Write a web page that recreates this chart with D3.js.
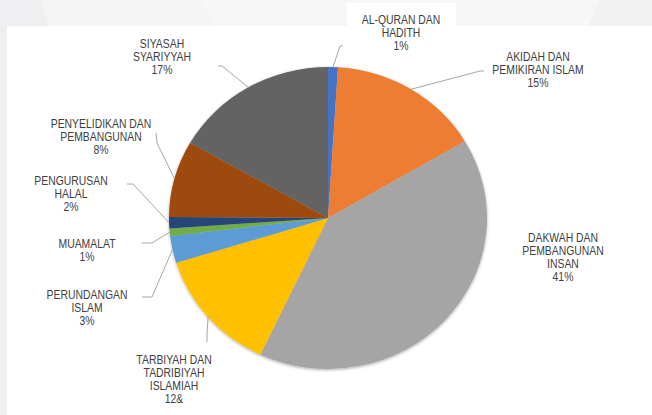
<!DOCTYPE html>
<html>
<head>
<meta charset="utf-8">
<script src="https://cdn.jsdelivr.net/npm/d3@7"></script>
<style>
  body { margin: 0; background: #f0f0f2; overflow: hidden; }
</style>
</head>
<body>
<div id="container"></div>
<script>
let w = 652;
let h = 415;

// DATA (clockwise from 12 o'clock)
let categories = [
  "AL-QURAN DAN HADITH", "AKIDAH DAN PEMIKIRAN ISLAM", "DAKWAH DAN PEMBANGUNAN INSAN",
  "TARBIYAH DAN TADRIBIYAH ISLAMIAH", "PERUNDANGAN ISLAM", "MUAMALAT",
  "PENGURUSAN HALAL", "PENYELIDIKAN DAN PEMBANGUNAN", "SIYASAH SYARIYYAH"
];
let values = [1.0, 15.5, 40.5, 13.2, 2.9, 0.8, 1.2, 8.2, 16.7];
let labelLines = [
  ["AL-QURAN DAN", "HADITH", "1%"],
  ["AKIDAH DAN", "PEMIKIRAN ISLAM", "15%"],
  ["DAKWAH DAN", "PEMBANGUNAN", "INSAN", "41%"],
  ["TARBIYAH DAN", "TADRIBIYAH", "ISLAMIAH", "12&"],
  ["PERUNDANGAN", "ISLAM", "3%"],
  ["MUAMALAT", "1%"],
  ["PENGURUSAN", "HALAL", "2%"],
  ["PENYELIDIKAN DAN", "PEMBANGUNAN", "8%"],
  ["SIYASAH", "SYARIYYAH", "17%"]
];
let colors = ["#4472c4", "#ed7d31", "#a5a5a5", "#ffc000", "#5b9bd5",
              "#70ad47", "#264478", "#9e480e", "#636363"];

// layout: label centre (x, first line centre y), leader start + elbow
let labelPos = [[401, 19], [538, 56], [563, 237], [174, 359], [87, 294],
                [87, 243], [71, 180], [101, 123], [162, 43]];
let leaders = [
  [[343, 46], [340, 46]],
  [[484, 71], [480, 71]],
  null,
  [[207, 342], [207, 334]],
  [[142, 297], [152, 297]],
  [[142, 243], [152, 243]],
  [[127, 184], [133, 184]],
  [[156, 133], [157, 143]],
  [[218, 66], [222, 66]]
];

let cx = 328, cy = 218, rx = 159, ry = 151;

let viz = d3.select("#container").append("svg")
  .attr("width", w)
  .attr("height", h);

// background slide
viz.append("rect").attr("width", w).attr("height", h).attr("fill", "#efeff1");
viz.append("path").attr("d", "M40,0 L200,0 L215,26 L48,26 Z").attr("fill", "#f5f5f6");
viz.append("path").attr("d", "M200,0 L600,0 L588,26 L215,26 Z").attr("fill", "#f7f7f8");
viz.append("path").attr("d", "M600,0 L652,0 L652,26 L588,26 Z").attr("fill", "#f2f2f3");
viz.append("rect").attr("x", 7).attr("y", 26).attr("width", w - 7).attr("height", h - 26).attr("fill", "#ffffff");
viz.append("rect").attr("x", 347).attr("y", 3).attr("width", 109).attr("height", 24).attr("fill", "#ffffff");

let defs = viz.append("defs");
let f = defs.append("filter").attr("id", "shadow")
  .attr("x", "-10%").attr("y", "-10%").attr("width", "120%").attr("height", "120%");
f.append("feDropShadow").attr("dx", 0).attr("dy", 1).attr("stdDeviation", 1.6)
  .attr("flood-color", "#000").attr("flood-opacity", 0.35);

let pie = d3.pie().sort(null).value(function (d) { return d; });
let arcs = pie(values);

let arcMaker = d3.arc().innerRadius(0).outerRadius(rx);
let edgeArc = d3.arc().innerRadius(rx).outerRadius(rx);

let pieGroup = viz.append("g")
  .attr("transform", "translate(" + cx + "," + cy + ") scale(1," + (ry / rx) + ")")
  .attr("filter", "url(#shadow)");

pieGroup.selectAll(".slice").data(arcs).enter()
  .append("path")
  .attr("class", "slice")
  .attr("d", arcMaker)
  .attr("fill", function (d, i) { return colors[i]; });

// leader lines
viz.selectAll(".leader").data(arcs).enter()
  .filter(function (d, i) { return leaders[i] != null; })
  .append("polyline")
  .attr("class", "leader")
  .attr("points", function (d) {
    let i = d.index;
    let c = edgeArc.centroid(d);
    let end = [cx + c[0], cy + c[1] * ry / rx];
    return [leaders[i][0], leaders[i][1], end].map(function (p) { return p.join(","); }).join(" ");
  })
  .attr("fill", "none")
  .attr("stroke", "#a6a6a6")
  .attr("stroke-width", 1);

// labels
let labels = viz.selectAll(".label").data(categories).enter()
  .append("text")
  .attr("class", "label")
  .attr("transform", function (d, i) {
    return "translate(" + labelPos[i][0] + "," + (labelPos[i][1] + 4.6) + ") scale(0.8,1)";
  })
  .attr("text-anchor", "middle")
  .attr("font-family", "'Liberation Sans', Arial, sans-serif")
  .attr("font-size", "13px")
  .attr("fill", "#404040");

labels.each(function (d, i) {
  d3.select(this).selectAll("tspan").data(labelLines[i]).enter()
    .append("tspan")
    .attr("x", 0)
    .attr("y", function (t, j) { return j * 13; })
    .text(function (t) { return t; });
});
</script>
</body>
</html>
